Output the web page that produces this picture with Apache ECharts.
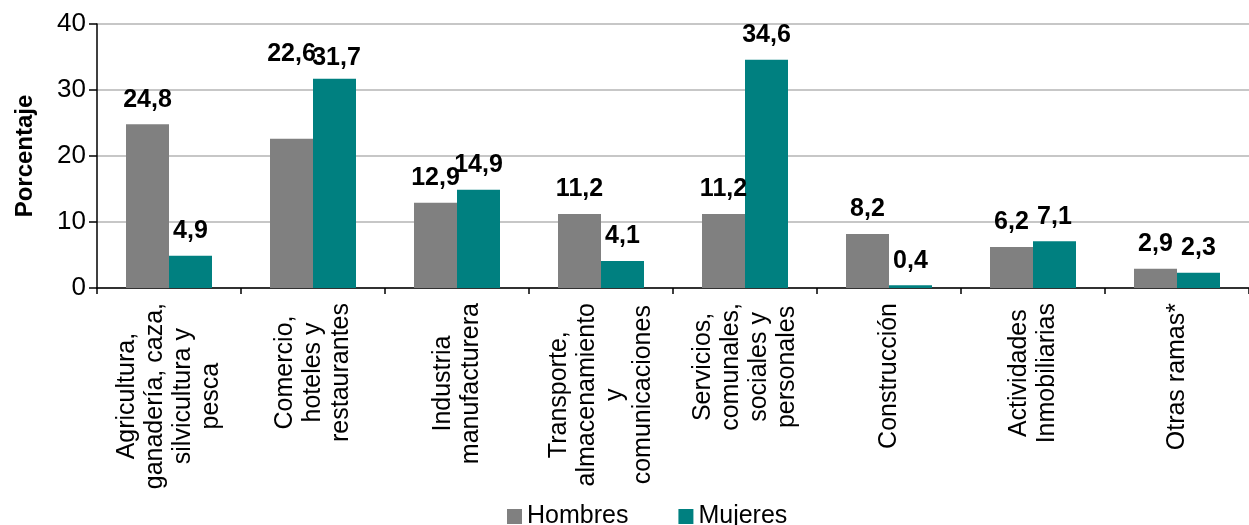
<!DOCTYPE html>
<html>
<head>
<meta charset="utf-8">
<script src="https://cdn.jsdelivr.net/npm/echarts@6/dist/echarts.min.js"></script>
<style>
html,body{margin:0;padding:0;background:#fff;}
#chart{width:1249px;height:525px;}
</style>
</head>
<body>
<div id="chart"></div>
<script>
const categories = [
  "Agricultura,\nganadería, caza,\nsilvicultura y\npesca",
  "Comercio,\nhoteles y\nrestaurantes",
  "Industria\nmanufacturera",
  "Transporte,\nalmacenamiento\ny\ncomunicaciones",
  "Servicios,\ncomunales,\nsociales y\npersonales",
  "Construcción",
  "Actividades\nInmobiliarias",
  "Otras ramas*"
];
const hombres = [24.8, 22.6, 12.9, 11.2, 11.2, 8.2, 6.2, 2.9];
const mujeres = [4.9, 31.7, 14.9, 4.1, 34.6, 0.4, 7.1, 2.3];
const seriesNames = ["Hombres", "Mujeres"];
const yTicks = [0, 10, 20, 30, 40];

const FONT = '"Liberation Sans", Arial, sans-serif';
const fmt = v => String(v).replace('.', ',');

const labelStyle = {
  show: true, position: 'top', distance: 12,
  fontFamily: FONT, fontSize: 25, fontWeight: 'bold', color: '#000',
  formatter: p => fmt(p.value)
};

const hombresData = hombres.map((v, i) => i === 1 ? {value: v, label: {offset: [0, -60]}} : v);
const mujeresData = mujeres.map((v, i) => i === 1 ? {value: v, label: {offset: [2, 4]}} : v);

const chart = echarts.init(document.getElementById('chart'));
chart.setOption({
  animation: false,
  backgroundColor: '#fff',
  grid: {left: 97, top: 24, width: 1165, height: 264, containLabel: false},
  legend: {
    data: seriesNames, left: 502, top: 499, icon: 'rect',
    itemWidth: 15, itemHeight: 15, itemGap: 50,
    textStyle: {fontFamily: FONT, fontSize: 25, color: '#000'}
  },
  xAxis: {
    type: 'category', data: categories,
    axisLine: {lineStyle: {color: '#000', width: 1.5}},
    axisTick: {show: true, alignWithLabel: false, length: 6, lineStyle: {color: '#000', width: 1.5}},
    axisLabel: {
      rotate: 90, interval: 0, margin: 15,
      fontFamily: FONT, fontSize: 25, color: '#000', lineHeight: 28,
      formatter: v => v.split('\n').map(l => '{c|' + l + '}').join('\n'),
      rich: {c: {align: 'center', fontFamily: FONT, fontSize: 25, color: '#000', lineHeight: 28}}
    }
  },
  yAxis: {
    type: 'value', min: yTicks[0], max: yTicks[yTicks.length - 1], interval: 10,
    name: 'Porcentaje', nameLocation: 'middle', nameRotate: 90, nameGap: 60,
    nameTextStyle: {fontFamily: FONT, fontSize: 24, fontWeight: 'bold', color: '#000'},
    axisLine: {show: true, lineStyle: {color: '#000', width: 1.5}},
    axisTick: {show: true, length: 8, lineStyle: {color: '#000', width: 1.5}},
    axisLabel: {margin: 11, fontFamily: FONT, fontSize: 26, color: '#000'},
    splitLine: {show: true, lineStyle: {color: '#b5b5b5', width: 1.5}}
  },
  series: [
    {name: seriesNames[0], type: 'bar', data: hombresData, barWidth: 43, barGap: '0%',
     itemStyle: {color: '#808080'}, label: labelStyle},
    {name: seriesNames[1], type: 'bar', data: mujeresData, barWidth: 43, barGap: '0%',
     itemStyle: {color: '#008080'}, label: labelStyle}
  ]
});
</script>
</body>
</html>
